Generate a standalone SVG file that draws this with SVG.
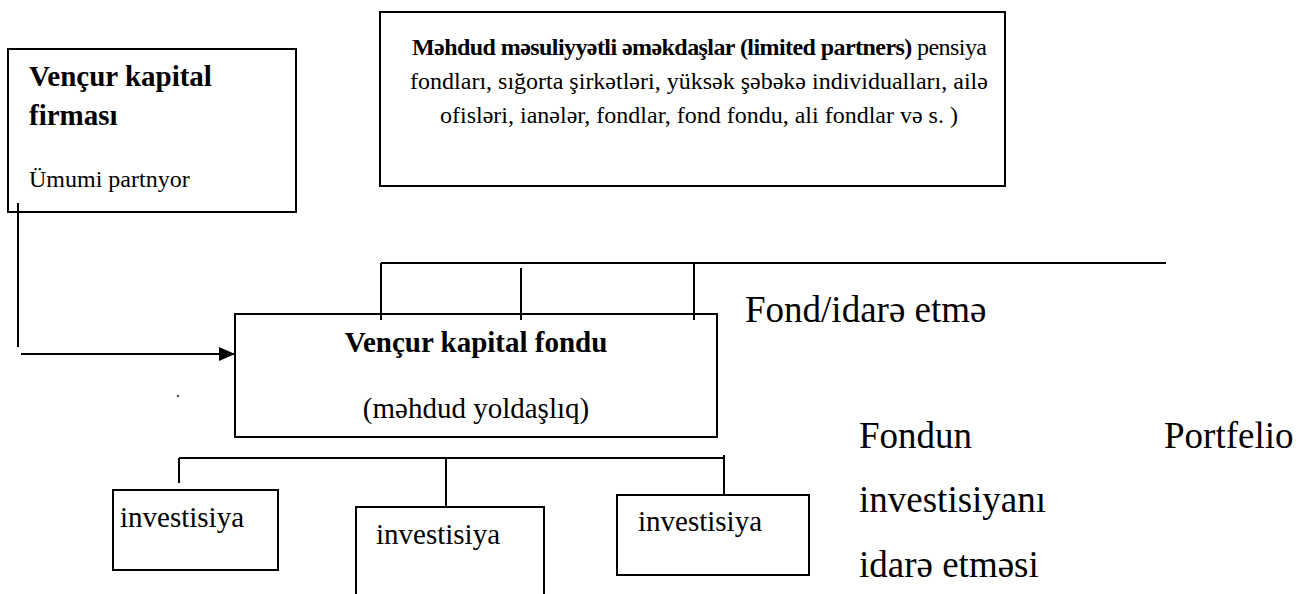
<svg xmlns="http://www.w3.org/2000/svg" width="1296" height="594" viewBox="0 0 1296 594">
  <defs>
    <style>
      .box { fill: #ffffff; stroke: #000000; stroke-width: 2; }
      .line { fill: none; stroke: #000000; stroke-width: 2; }
      .t { font-family: "Liberation Serif", "Times New Roman", serif; fill: #000000; }
      .b { font-weight: bold; }
      .s24 { font-size: 24px; }
      .s29 { font-size: 29px; }
      .s37 { font-size: 37px; }
      .mid { text-anchor: middle; }
    </style>
    <marker id="arrowhead" markerWidth="16" markerHeight="14" refX="16" refY="7" orient="auto" markerUnits="userSpaceOnUse">
      <path d="M0,0 L16,7 L0,14 Z" fill="#000000"/>
    </marker>
  </defs>

  <rect width="1296" height="594" fill="#ffffff"/>

  <!-- General partner firm -->
  <g id="vc-firm">
    <rect class="box" x="8" y="49" width="288" height="163"/>
    <text class="t b s29" x="29" y="86">Vençur kapital</text>
    <text class="t b s29" x="29" y="125">firması</text>
    <text class="t s24" x="29" y="187">Ümumi partnyor</text>
  </g>

  <!-- Limited partners -->
  <g id="limited-partners">
    <rect class="box" x="380" y="12" width="625" height="174"/>
    <text class="t s24" x="412" y="55" textLength="575" lengthAdjust="spacing"><tspan class="b">Məhdud məsuliyyətli əməkdaşlar (limited partners)</tspan> pensiya</text>
    <text class="t s24 mid" x="699" y="89">fondları, sığorta şirkətləri, yüksək şəbəkə individualları, ailə</text>
    <text class="t s24 mid" x="699" y="123">ofisləri, ianələr, fondlar, fond fondu, ali fondlar və s. )</text>
  </g>

  <!-- Venture capital fund -->
  <g id="vc-fund">
    <rect class="box" x="235" y="314" width="482" height="123"/>
    <text class="t b s29 mid" x="476" y="352">Vençur kapital fondu</text>
    <text class="t s29 mid" x="476" y="418">(məhdud yoldaşlıq)</text>
  </g>

  <!-- Portfolio investments -->
  <g id="investment-1">
    <rect class="box" x="113" y="490" width="165" height="80"/>
    <text class="t s29" x="120" y="527">investisiya</text>
  </g>
  <g id="investment-2">
    <path class="line" d="M356,596 V507 H544 V596"/>
    <text class="t s29" x="376" y="544">investisiya</text>
  </g>
  <g id="investment-3">
    <rect class="box" x="617" y="495" width="192" height="80"/>
    <text class="t s29" x="638" y="531">investisiya</text>
  </g>

  <!-- Side labels -->
  <g id="label-fund-management">
    <text class="t s37" x="745" y="322">Fond/idarə etmə</text>
  </g>
  <g id="label-portfolio-management">
    <text class="t s37" x="859" y="448">Fondun</text>
    <text class="t s37" x="1164" y="448">Portfelio</text>
    <text class="t s37" x="859" y="512">investisiyanı</text>
    <text class="t s37" x="859" y="577">idarə etməsi</text>
  </g>

  <!-- Connectors -->
  <g id="connectors">
    <path class="line" d="M18,203 V347"/>
    <path class="line" d="M21,354 H235" stroke-width="3" marker-end="url(#arrowhead)"/>
    <path class="line" d="M381,263 H1166"/>
    <path class="line" d="M381,263 V320"/>
    <path class="line" d="M521,268 V320"/>
    <path class="line" d="M694,263 V320"/>
    <path class="line" d="M179,458 H724"/>
    <path class="line" d="M179,458 V483"/>
    <path class="line" d="M446,458 V507"/>
    <path class="line" d="M724,455 V494"/>
  </g>

  <circle cx="178" cy="396" r="1" fill="#000000"/>
</svg>
